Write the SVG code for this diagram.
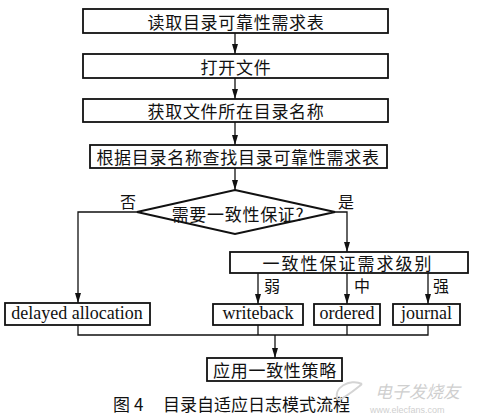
<svg xmlns="http://www.w3.org/2000/svg" width="480" height="419" viewBox="0 0 480 419">
<style>
.box{fill:#fff;stroke:#111;stroke-width:1.8}
.ln{fill:none;stroke:#111;stroke-width:1.3}
.cj{font-family:"Noto Sans CJK SC","Noto Sans",sans-serif;font-size:17px;fill:#111;text-anchor:middle;dominant-baseline:central;letter-spacing:0.7px}
.en{font-family:"Liberation Serif",serif;font-size:18px;fill:#111;text-anchor:middle}
.lb{font-family:"Noto Sans CJK SC",sans-serif;font-size:16px;fill:#111;dominant-baseline:central}
</style>
<defs>
<marker id="ah" markerUnits="userSpaceOnUse" markerWidth="10" markerHeight="6" refX="10" refY="3" orient="auto">
<path d="M0,0 L10,3 L0,6 z" fill="#111"/>
</marker>
</defs>
<rect width="480" height="419" fill="#fff"/>
<g id="connectors">
<line class="ln" x1="235" y1="33" x2="235" y2="54" marker-end="url(#ah)"/>
<line class="ln" x1="235" y1="78" x2="235" y2="99" marker-end="url(#ah)"/>
<line class="ln" x1="235" y1="122" x2="235" y2="145" marker-end="url(#ah)"/>
<line class="ln" x1="235" y1="168" x2="235" y2="190" marker-end="url(#ah)"/>
<polyline class="ln" points="137,212 78,212 78,303" marker-end="url(#ah)"/>
<polyline class="ln" points="335,212 347,212 347,252" marker-end="url(#ah)"/>
<line class="ln" x1="258" y1="273" x2="258" y2="304" marker-end="url(#ah)"/>
<line class="ln" x1="347" y1="273" x2="347" y2="304" marker-end="url(#ah)"/>
<line class="ln" x1="428" y1="273" x2="428" y2="304" marker-end="url(#ah)"/>
<polyline class="ln" points="78,325 78,335 428,335 428,325"/>
<line class="ln" x1="258" y1="325" x2="258" y2="335"/>
<line class="ln" x1="347" y1="325" x2="347" y2="335"/>
<line class="ln" x1="275" y1="335" x2="275" y2="358" marker-end="url(#ah)"/>
<text class="lb" x="120" y="201">否</text>
<text class="lb" x="338" y="201">是</text>
<text class="lb" x="264" y="285">弱</text>
<text class="lb" x="354" y="285">中</text>
<text class="lb" x="433" y="285">强</text>
</g>
<g id="n1"><rect class="box" x="83" y="9" width="305" height="24"/><text class="cj" x="236" y="21">读取目录可靠性需求表</text></g>
<g id="n2"><rect class="box" x="83" y="54" width="305" height="24"/><text class="cj" x="236" y="66">打开文件</text></g>
<g id="n3"><rect class="box" x="83" y="99" width="305" height="23"/><text class="cj" x="236" y="110.5">获取文件所在目录名称</text></g>
<g id="n4"><rect class="box" x="90" y="145" width="297" height="23"/><text class="cj" x="238" y="156.5">根据目录名称查找目录可靠性需求表</text></g>
<g id="n5"><polygon class="box" points="235,190 335,212 235,234 137,212"/><text class="cj" x="238" y="213">需要一致性保证?</text></g>
<g id="n6"><rect class="box" x="230" y="252" width="238" height="21"/><text class="cj" x="348" y="262.5" style="letter-spacing:2px">一致性保证需求级别</text></g>
<g id="n7"><rect class="box" x="5" y="303" width="145" height="22"/><text class="en" x="77" y="319">delayed allocation</text></g>
<g id="n8"><rect class="box" x="213" y="304" width="90" height="21"/><text class="en" x="258" y="319">writeback</text></g>
<g id="n9"><rect class="box" x="314" y="304" width="66" height="21"/><text class="en" x="347" y="319">ordered</text></g>
<g id="n10"><rect class="box" x="393" y="304" width="67" height="21"/><text class="en" x="426.5" y="319">journal</text></g>
<g id="n11"><rect class="box" x="207" y="358" width="135" height="23"/><text class="cj" x="275" y="369.5">应用一致性策略</text></g>
<g id="caption">
<text class="lb" x="113" y="403" style="font-size:17px;letter-spacing:4px">图4</text>
<text class="lb" x="163" y="403" style="font-size:17px">目录自适应日志模式流程</text>
</g>
<g id="watermark" fill="#cfcfcf" font-family="Noto Sans CJK SC,sans-serif">
<path d="M338,400 C332,388 350,378 362,384 M362,384 C352,392 345,398 338,400" fill="none" stroke="#d4d4d4" stroke-width="2"/>
<text x="375" y="398" font-size="17" font-style="italic">电子发烧友</text>
<text x="370" y="413" font-size="9" font-family="Liberation Sans,sans-serif">www.elecfans.com</text>
</g>
</svg>
